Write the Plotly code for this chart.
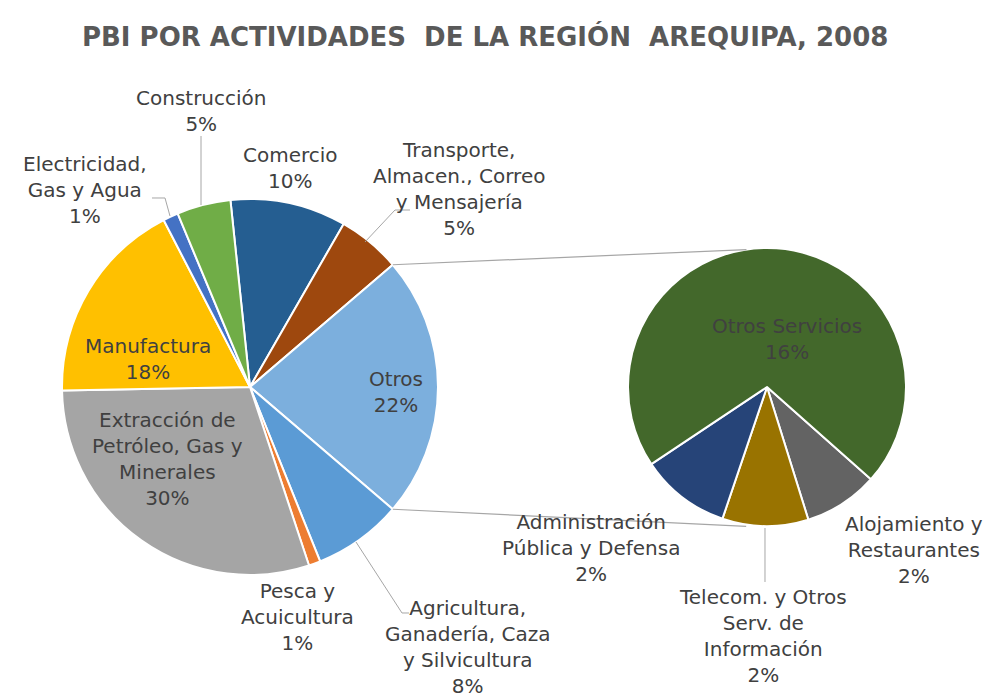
import math
import plotly.graph_objects as go

# page is 991x697; the HTML body has an 8px margin, so the figure is drawn at (8,8)
OFF = 8
W, H = 991 - OFF, 697 - OFF

# ---------------- data ----------------
main_names = ["Comercio", "Transporte, Almacen., Correo y Mensajería", "Otros",
              "Agricultura, Ganadería, Caza y Silvicultura", "Pesca y Acuicultura",
              "Extracción de Petróleo, Gas y Minerales", "Manufactura",
              "Electricidad, Gas y Agua", "Construcción"]
main_text = ["Comercio", "Transporte,<br>Almacen., Correo<br>y Mensajería", "Otros",
             "Agricultura,<br>Ganadería, Caza<br>y Silvicultura", "Pesca y<br>Acuicultura",
             "Extracción de<br>Petróleo, Gas y<br>Minerales", "Manufactura",
             "Electricidad,<br>Gas y Agua", "Construcción"]
main_values = [9.9, 5.4, 22.4, 7.6, 1.0, 29.6, 17.6, 1.3, 4.6]

sub_names = ["Alojamiento y Restaurantes", "Telecom. y Otros Serv. de Información",
             "Administración Pública y Defensa", "Otros Servicios"]
sub_text = ["Alojamiento y<br>Restaurantes", "Telecom. y Otros<br>Serv. de<br>Información",
            "Administración<br>Pública y Defensa", "Otros Servicios"]
sub_values = [1.9, 2.2, 2.3, 15.6]

title_text = "PBI POR ACTIVIDADES  DE LA REGIÓN  AREQUIPA, 2008"

# ---------------- styles ----------------
main_colors = ["#255E91", "#9E480E", "#7CAFDD", "#5B9BD5", "#ED7D31",
               "#A5A5A5", "#FFC000", "#4472C4", "#70AD47"]
sub_colors = ["#636363", "#997300", "#264478", "#43682B"]

# pie geometry (page pixels)
MC, MR = (250, 387), 188
SC, SR = (767, 387), 139
SUB_ROT = 131.6

def px2paper(x, y):
    return (x - OFF) / W, 1 - (y - OFF) / H

def dom(c, r):
    x0, y1 = px2paper(c[0] - r, c[1] - r)
    x1, y0 = px2paper(c[0] + r, c[1] + r)
    return dict(x=[x0, x1], y=[y0, y1])

tot = sum(main_values)
otros_i = main_names.index("Otros")
before = sum(main_values[:otros_i])
main_rot = 90 - (before + main_values[otros_i] / 2) / tot * 360

fig = go.Figure()
fig.add_trace(go.Pie(
    labels=main_names, values=main_values, sort=False, direction="clockwise",
    rotation=main_rot, marker=dict(colors=main_colors, line=dict(color="white", width=2)),
    textinfo="none", domain=dom(MC, MR), showlegend=False, hoverinfo="label+value"))
fig.add_trace(go.Pie(
    labels=sub_names, values=sub_values, sort=False, direction="clockwise",
    rotation=SUB_ROT, marker=dict(colors=sub_colors, line=dict(color="white", width=2)),
    textinfo="none", domain=dom(SC, SR), showlegend=False, hoverinfo="label+value"))

def pt(c, r, ang):
    a = math.radians(ang)
    return c[0] + r * math.sin(a), c[1] - r * math.cos(a)

shapes = []
def line_px(points, color="#A6A6A6", width=1):
    path = ""
    for i, (x, y) in enumerate(points):
        px, py = px2paper(x, y)
        path += ("M" if i == 0 else "L") + f"{px:.5f},{py:.5f} "
    shapes.append(dict(type="path", path=path, xref="paper", yref="paper",
                       line=dict(color=color, width=width)))

# connector lines between the two pies
a1 = main_rot + before / tot * 360
a2 = a1 + main_values[otros_i] / tot * 360
line_px([pt(MC, MR, a1), pt(SC, SR, -8.5)], width=1.2)
line_px([pt(MC, MR, a2), pt(SC, SR + 2, 188.5)], width=1.2)

# leader lines
line_px([(201, 136), (201, 205)])                       # Construcción
line_px([(152, 198), (165, 198), (170, 216)])           # Electricidad
line_px([(365, 242), (395, 210), (410, 210)])           # Transporte
line_px([(356, 542), (402, 613), (409, 613)])           # Agricultura
line_px([(765, 528), (765, 582)])                       # Telecom

# label positions (page px, block center)
main_pos = [(290, 168), (459, 189), (396, 392), (467, 647), (297, 617),
            (167, 459), (148, 359), (85, 190), (201, 111)]
sub_pos = [(914, 550), (763, 636), (591, 548), (787, 339)]

annotations = []
FONT = dict(family="DejaVu Sans, Verdana, sans-serif", size=20, color="#404040")
def add_label(txt, v, pos):
    x, y = px2paper(*pos)
    annotations.append(dict(text=f"{txt}<br>{v:.0f}%", x=x, y=y, xref="paper", yref="paper",
                            xanchor="center", yanchor="middle", showarrow=False,
                            align="center", font=FONT))

for t, v, p in zip(main_text, main_values, main_pos):
    add_label(t, v, p)
for t, v, p in zip(sub_text, sub_values, sub_pos):
    add_label(t, v, p)

tx, ty = px2paper(485, 36)
annotations.append(dict(text=f"<b>{title_text}</b>", x=tx, y=ty, xref="paper", yref="paper",
                        xanchor="center", yanchor="middle", showarrow=False,
                        font=dict(family="DejaVu Sans, sans-serif", size=26, color="#595959")))

fig.update_layout(width=W, height=H, margin=dict(l=0, r=0, t=0, b=0),
                  paper_bgcolor="white", plot_bgcolor="white",
                  shapes=shapes, annotations=annotations)

fig.write_html("out.html")
